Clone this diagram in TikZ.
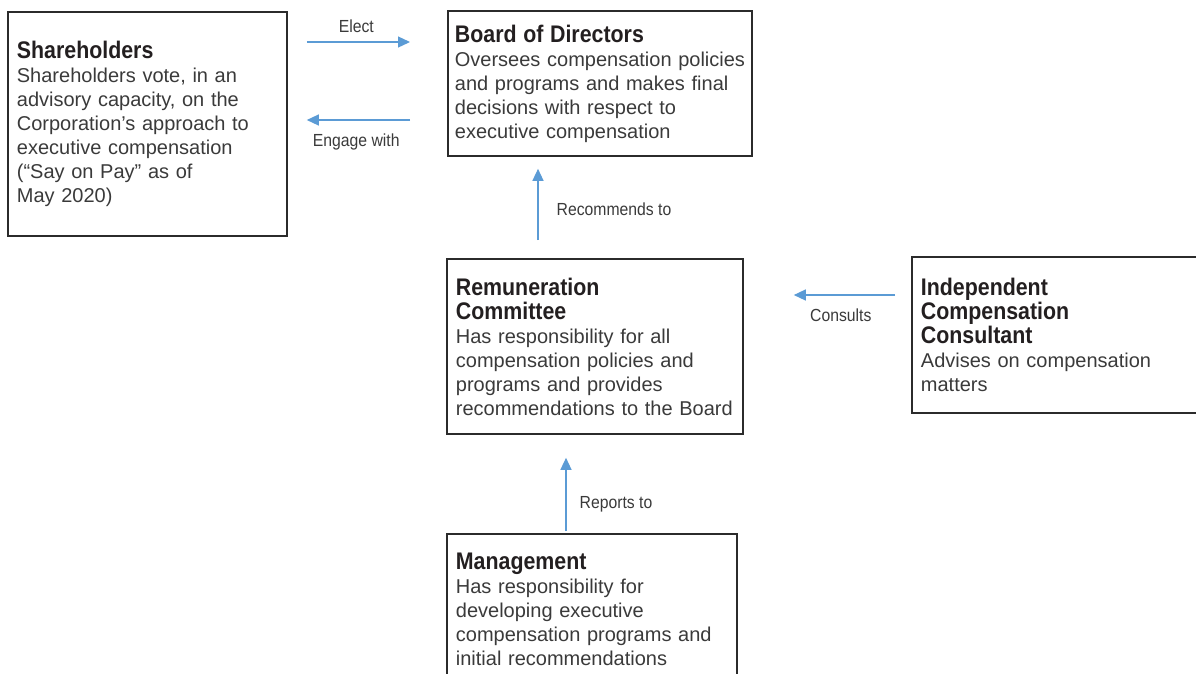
\documentclass[tikz,border=0pt]{standalone}
\usepackage{fontspec}
\setmainfont{Liberation Sans}
\newfontfamily\headfont{Liberation Sans}[FakeStretch=0.89]
\newfontfamily\tagfont{Liberation Sans}[FakeStretch=0.9]
\usetikzlibrary{arrows.meta, positioning}
\definecolor{flowblue}{HTML}{5B9BD5}
\definecolor{boxline}{HTML}{2B2B2B}
\definecolor{bodytext}{HTML}{3A3A3A}
\definecolor{headtext}{HTML}{231F20}
\newcommand{\boxhead}[1]{{\headfont\bfseries\fontsize{24}{24}\selectfont\color{headtext}#1}}

\begin{document}
\begin{tikzpicture}[x=1pt,y=-1pt,
  box/.style={draw=boxline,line width=1.8pt,rectangle,anchor=north west,align=left,
    inner xsep=9pt,inner ysep=0pt,text=bodytext,font=\fontsize{20}{24}\selectfont},
  flow/.style={draw=flowblue,line width=1.3pt,-{Triangle[length=12pt,width=11pt]}},
  tag/.style={font=\tagfont\fontsize{17.5}{20}\selectfont,text=bodytext,inner sep=3.3pt}]
\useasboundingbox (0,0) rectangle (1196,673);

\node[box,minimum width=279pt,minimum height=224pt,text width=261pt] (share) at (7,11)
  {\boxhead{Shareholders}\\ Shareholders vote, in an\\ advisory capacity, on the\\
   Corporation’s approach to\\ executive compensation\\ (“Say on Pay” as of\\ May 2020)};
\node[box,minimum width=304pt,minimum height=145pt,inner xsep=7pt,text width=290pt] (board) at (447,10)
  {\boxhead{Board of Directors}\\ \mbox{Oversees compensation policies}\\ and programs and makes final\\
   decisions with respect to\\ executive compensation};
\node[box,minimum width=296pt,minimum height=175pt,text width=278pt] (remun) at (446,258)
  {\boxhead{Remuneration\\ Committee}\\ Has responsibility for all\\ compensation policies and\\
   programs and provides\\ recommendations to the Board};
\node[box,minimum width=300pt,minimum height=156pt,text width=282pt] (indep) at (911,256)
  {\boxhead{Independent\\ Compensation\\ Consultant}\\ Advises on compensation\\ matters};
\node[box,minimum width=290pt,minimum height=150pt,text width=272pt] (mgmt) at (446,533)
  {\boxhead{Management}\\ Has responsibility for\\ developing executive\\
   compensation programs and\\ initial recommendations};

\coordinate (elect) at (0,42);
\coordinate (engage) at (0,120);
\coordinate (rec) at (538,0);
\coordinate (cons) at (0,295);
\coordinate (rep) at (566,0);

\draw[flow,shorten <=19pt,shorten >=37pt] (share.east |- elect) -- node[tag,pos=0.43,above=5pt] {Elect} (board.west |- elect);
\draw[flow,shorten <=37pt,shorten >=19pt] (board.west |- engage) -- node[tag,pos=0.57,below=10pt] {Engage with} (share.east |- engage);
\draw[flow,shorten <=18pt,shorten >=12pt] (remun.north -| rec) -- node[tag,pos=0.48,right=14.7pt] {Recommends to} (board.south -| rec);
\draw[flow,shorten <=16pt,shorten >=50pt] (indep.west |- cons) -- node[tag,pos=0.42,below=10pt] {Consults} (remun.east |- cons);
\draw[flow,shorten <=2pt,shorten >=23pt] (mgmt.north -| rep) -- node[tag,pos=0.295,right=9.7pt] {Reports to} (remun.south -| rep);
\end{tikzpicture}
\end{document}
